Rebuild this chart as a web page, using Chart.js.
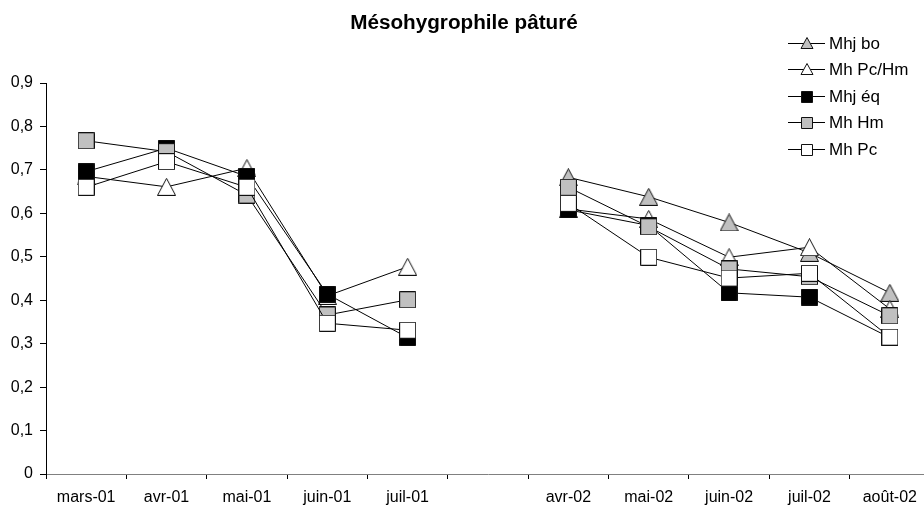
<!DOCTYPE html>
<html><head><meta charset="utf-8">
<script src="https://cdn.jsdelivr.net/npm/chart.js@4/dist/chart.umd.min.js"></script>
<style>
html,body{margin:0;padding:0;background:#fff;overflow:hidden;width:924px;height:509px}
#wrap{position:relative;width:940px;height:509px}
</style>
</head><body><div id="wrap"><canvas id="c" width="940" height="509"></canvas></div>
<script>
const chartTitle = 'Mésohygrophile pâturé';
const categories = ['mars-01','avr-01','mai-01','juin-01','juil-01','','avr-02','mai-02','juin-02','juil-02','août-02'];
const seriesNames = ['Mhj bo','Mh Pc/Hm','Mhj éq','Mh Hm','Mh Pc'];
const mhjBo   = [null, null, null, null, null, null, 0.683, 0.638, 0.579, 0.509, 0.417];
const mhPcHm  = [0.685, 0.661, 0.704, 0.410, 0.477, null, 0.610, 0.587, 0.499, 0.522, 0.380];
const mhjEq   = [0.696, 0.750, 0.685, 0.414, 0.314, null, 0.608, 0.572, 0.417, 0.407, 0.314];
const mhHm    = [0.767, 0.742, 0.642, 0.366, 0.401, null, 0.660, 0.569, 0.472, 0.454, 0.364];
const mhPc    = [0.660, 0.719, 0.660, 0.347, 0.331, null, 0.623, 0.499, 0.451, 0.462, 0.315];
const yMin = 0, yMax = 0.9, yStep = 0.1;

const FONT = 'Liberation Sans, Arial, Helvetica, sans-serif';
const GRAY = '#c0c0c0';

function marker(shape, fill, w, h) {
  const c = document.createElement('canvas');
  c.width = w; c.height = h;
  const g = c.getContext('2d');
  g.fillStyle = fill; g.strokeStyle = '#111'; g.lineWidth = 1;
  g.beginPath();
  if (shape === 'tri') { g.moveTo(w / 2, 0.5); g.lineTo(w - 0.5, h - 0.5); g.lineTo(0.5, h - 0.5); g.closePath(); }
  else { g.rect(0.5, 0.5, w - 1, h - 1); }
  g.fill(); g.stroke();
  return c;
}
const shapes = [['tri', GRAY], ['tri', '#fff'], ['sq', '#000'], ['sq', GRAY], ['sq', '#fff']];
const bigMarkers = shapes.map(([s, f]) => s === 'tri' ? marker(s, f, 19, 18) : marker(s, f, 17, 17));
const values = [mhjBo, mhPcHm, mhjEq, mhHm, mhPc];

const datasets = values.map((v, i) => ({
  label: seriesNames[i],
  data: v,
  borderColor: '#000',
  borderWidth: 1,
  pointStyle: bigMarkers[i],
  pointRadius: 8,
  fill: false,
  tension: 0,
  spanGaps: false,
  order: 5 - i
}));

const overlay = {
  id: 'overlay',
  afterDraw(chart) {
    const ctx = chart.ctx;
    ctx.save();
    ctx.fillStyle = '#000';
    ctx.font = 'bold 20.7px ' + FONT;
    ctx.textAlign = 'center';
    ctx.textBaseline = 'middle';
    ctx.fillText(chartTitle, 464, 23);
    ctx.font = '17px ' + FONT;
    ctx.textAlign = 'left';
    for (let i = 0; i < seriesNames.length; i++) {
      const y = Math.round(43 + 26.4 * i) + 0.5;
      ctx.strokeStyle = '#000'; ctx.lineWidth = 1;
      ctx.beginPath(); ctx.moveTo(788, y); ctx.lineTo(825, y); ctx.stroke();
      const [s, f] = shapes[i];
      ctx.fillStyle = f; ctx.strokeStyle = '#111';
      ctx.beginPath();
      if (s === 'tri') { ctx.moveTo(807, y - 6); ctx.lineTo(813, y + 5); ctx.lineTo(801, y + 5); ctx.closePath(); }
      else { ctx.rect(801.5, y - 5, 11, 11); }
      ctx.fill(); ctx.stroke();
      ctx.fillStyle = '#000';
      ctx.fillText(seriesNames[i], 829, y + 1);
    }
    ctx.restore();
  }
};

new Chart(document.getElementById('c'), {
  type: 'line',
  data: { labels: categories, datasets },
  options: {
    responsive: false,
    animation: false,
    events: [],
    layout: { padding: { top: 83, right: 10, left: 0, bottom: 0 } },
    plugins: { legend: { display: false }, title: { display: false }, tooltip: { enabled: false } },
    scales: {
      x: {
        offset: true,
        grid: { offset: true, drawOnChartArea: false, drawTicks: true, tickLength: 5, color: '#000' },
        border: { color: '#808080', width: 1 },
        ticks: { color: '#000', font: { family: FONT, size: 16 }, padding: 9, maxRotation: 0, autoSkip: false },
        afterFit(s) { s.height = 35; }
      },
      y: {
        min: yMin, max: yMax,
        grid: { drawOnChartArea: false, drawTicks: true, tickLength: 6, color: '#000' },
        border: { color: '#000', width: 1 },
        ticks: {
          stepSize: yStep, color: '#000', font: { family: FONT, size: 16 }, padding: 7,
          callback: v => Math.abs(v) < 1e-9 ? '0' : (Math.round(v * 10) / 10).toFixed(1).replace('.', ',')
        },
        afterFit(s) { s.width = 46; }
      }
    }
  },
  plugins: [overlay]
});
</script>
</body></html>
